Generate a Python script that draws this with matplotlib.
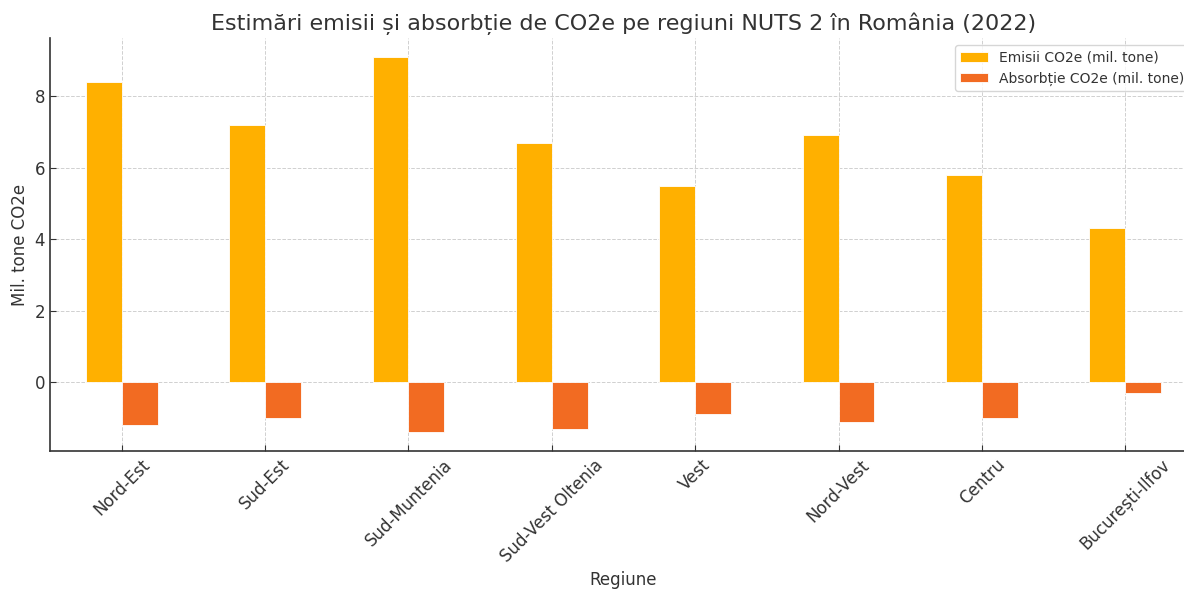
import matplotlib
matplotlib.use("Agg")
import matplotlib.pyplot as plt
import numpy as np

regions = ["Nord-Est", "Sud-Est", "Sud-Muntenia", "Sud-Vest Oltenia", "Vest",
           "Nord-Vest", "Centru", "București-Ilfov"]
emisii = [8.4, 7.2, 9.1, 6.7, 5.5, 6.9, 5.8, 4.3]
absorbtie = [-1.2, -1.0, -1.4, -1.3, -0.9, -1.1, -1.0, -0.3]
yticks = [0, 2, 4, 6, 8]

plt.rcParams['font.family'] = ['DejaVu Sans']
txt = '#333333'

fig = plt.figure(figsize=(11.84, 5.89), dpi=100)
ax = fig.add_axes([50/1184, 138/589, 1147/1184, (451-38)/589])

x = np.arange(len(regions))
w = 0.25
ax.bar(x - w/2, emisii, w, color='#FFB000', edgecolor='white', linewidth=0.6,
       label='Emisii CO2e (mil. tone)', zorder=3)
ax.bar(x + w/2, absorbtie, w, color='#F26B22', edgecolor='white', linewidth=0.6,
       label='Absorbție CO2e (mil. tone)', zorder=3)

ax.set_xlim(-0.5, 7.5)
ax.set_ylim(-1.925, 9.625)
ax.set_xticks(x)
ax.set_xticklabels(regions, rotation=45, fontsize=12, color=txt)
ax.set_yticks(yticks)
ax.tick_params(axis='y', labelsize=12, labelcolor=txt)
ax.tick_params(direction='in', length=4, color='#333333')
ax.grid(True, linestyle='--', color='#d0d0d0', linewidth=0.7, zorder=0)
ax.set_axisbelow(True)
for s in ['top', 'right']:
    ax.spines[s].set_visible(False)
for s in ['left', 'bottom']:
    ax.spines[s].set_color('#333333')
    ax.spines[s].set_linewidth(1.2)

ax.set_title('Estimări emisii și absorbție de CO2e pe regiuni NUTS 2 în România (2022)',
             fontsize=16, color=txt, pad=6)
ax.set_xlabel('Regiune', fontsize=12, color=txt)
ax.set_ylabel('Mil. tone CO2e', fontsize=12, color=txt)
leg = ax.legend(loc='upper right', fontsize=10, labelcolor=txt)

fig.savefig('out.png', dpi=100)
